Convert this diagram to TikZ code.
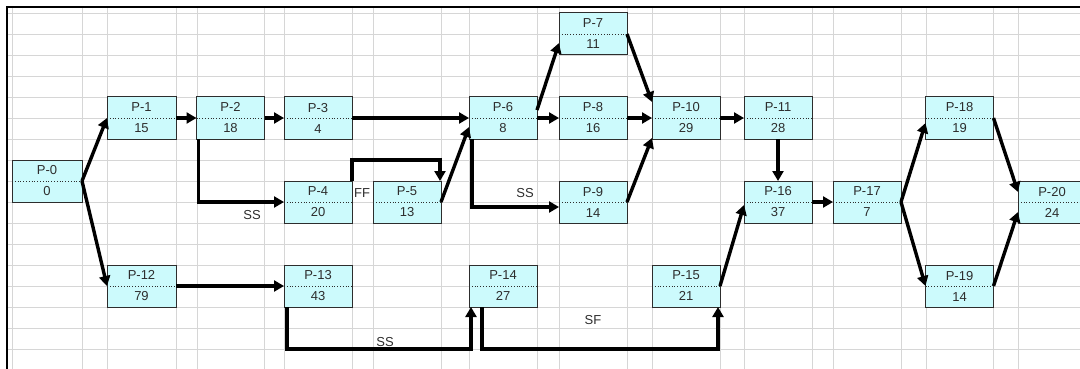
\documentclass[tikz,border=0pt]{standalone}
\usepackage{fontspec}
\setmainfont{Liberation Sans}
\usetikzlibrary{arrows.meta}
\definecolor{taskfill}{RGB}{204,250,252}
\definecolor{gridgray}{RGB}{214,214,214}
\definecolor{inkgray}{RGB}{45,45,45}

\begin{document}
\begin{tikzpicture}[x=1pt,y=-1pt,
  gridline/.style={draw=gridgray, line width=0.8pt},
  taskbox/.style={draw=inkgray, line width=1pt, fill=taskfill,
    minimum width=68pt, minimum height=42pt, inner sep=0pt, outer sep=0pt,
    align=center, text=inkgray, font=\fontsize{13}{21}\selectfont,
    path picture={\draw[inkgray, dotted, line width=0.8pt]
      (path picture bounding box.west) -- (path picture bounding box.east);}},
  link/.style={line width=3.4pt, black, -{Triangle[length=10pt,width=11pt]}},
  linktag/.style={text=inkgray, font=\fontsize{13}{15}\selectfont, inner sep=0pt}
]
\useasboundingbox (0,0) rectangle (1080,369);
\clip (0,0) rectangle (1080,369);

% spreadsheet grid
\foreach \gx in {12,82,107,176,197,264,284,352,373,441,469,537,559,627,652,720,744,812,833,901,926,993,1018}
  \draw[gridline] (\gx,7) -- (\gx,369);
\foreach \k in {0,...,17}
  \draw[gridline] (7,{13+21*\k}) -- (1080,{13+21*\k});

% sheet frame
\draw[black, line width=1.2pt] (7,369) -- (7,7) -- (1080,7);

% tasks
\node[taskbox, minimum width=70pt] (p0) at (47,181) {P-0\\0};
\node[taskbox, minimum width=69pt] (p1) at (141.5,118) {P-1\\15};
\node[taskbox] (p2) at (230.5,118) {P-2\\18};
\node[taskbox] (p3) at (318,118) {P-3\\4};
\node[taskbox] (p4) at (318,202) {P-4\\20};
\node[taskbox] (p5) at (407,202) {P-5\\13};
\node[taskbox] (p6) at (503,118) {P-6\\8};
\node[taskbox] (p7) at (593,34) {P-7\\11};
\node[taskbox] (p8) at (593,118) {P-8\\16};
\node[taskbox] (p9) at (593,202) {P-9\\14};
\node[taskbox] (p10) at (686,118) {P-10\\29};
\node[taskbox] (p11) at (778,118) {P-11\\28};
\node[taskbox, minimum width=69pt] (p12) at (141.5,286) {P-12\\79};
\node[taskbox] (p13) at (318,286) {P-13\\43};
\node[taskbox] (p14) at (503,286) {P-14\\27};
\node[taskbox] (p15) at (686,286) {P-15\\21};
\node[taskbox] (p16) at (778,202) {P-16\\37};
\node[taskbox] (p17) at (867,202) {P-17\\7};
\node[taskbox] (p18) at (959.5,118) {P-18\\19};
\node[taskbox] (p19) at (959.5,286) {P-19\\14};
\node[taskbox] (p20) at (1052,202) {P-20\\24};

% dependency labels
\node[linktag] (tagss1) at (252,215) {SS};
\node[linktag] (tagff) at (362,193) {FF};
\node[linktag] (tagss2) at (525,193) {SS};
\node[linktag] (tagss3) at (385,342) {SS};
\node[linktag] (tagsf) at (593,320) {SF};

% finish-to-start links
\draw[link] (p0.east) -- (p1.west);
\draw[link] (p0.east) -- (p12.west);
\draw[link] (p1.east) -- (p2.west);
\draw[link] (p2.east) -- (p3.west);
\draw[link] (p3.east) -- (p6.west);
\draw[link] (p5.east) -- ([yshift=-9pt]p6.west);
\draw[link] ([yshift=8pt]p6.east) -- ([yshift=-9pt]p7.west);
\draw[link] (p6.east) -- (p8.west);
\draw[link] (p7.east) -- ([yshift=16pt]p10.west);
\draw[link] (p8.east) -- (p10.west);
\draw[link] (p9.east) -- ([yshift=-20pt]p10.west);
\draw[link] (p10.east) -- (p11.west);
\draw[link] (p11.south) -- (p16.north);
\draw[link] (p12.east) -- (p13.west);
\draw[link] (p15.east) -- ([yshift=-3pt]p16.west);
\draw[link] (p16.east) -- (p17.west);
\draw[link] (p17.east) -- ([yshift=-5pt]p18.west);
\draw[link] (p17.east) -- (p19.west);
\draw[link] (p18.east) -- ([yshift=10pt]p20.west);
\draw[link] (p19.east) -- ([yshift=-10pt]p20.west);

% start-to-start, finish-to-finish and start-to-finish links
\draw[link] ([xshift=2pt]p2.south west) |- (p4.west);
\draw[link] (p4.north east) -- ([yshift=21pt]p4.north east) -| ([xshift=-1pt]p5.north east);
\draw[link] ([xshift=3pt]p6.south west) |- ([yshift=-5pt]p9.west);
\draw[link] ([xshift=3pt]p13.south west) -- ([xshift=3pt,yshift=-42pt]p13.south west)
  -| ([xshift=2pt]p14.south west);
\draw[link] ([xshift=13pt]p14.south west) -- ([xshift=13pt,yshift=-42pt]p14.south west)
  -| ([xshift=-2pt]p15.south east);
\end{tikzpicture}
\end{document}
